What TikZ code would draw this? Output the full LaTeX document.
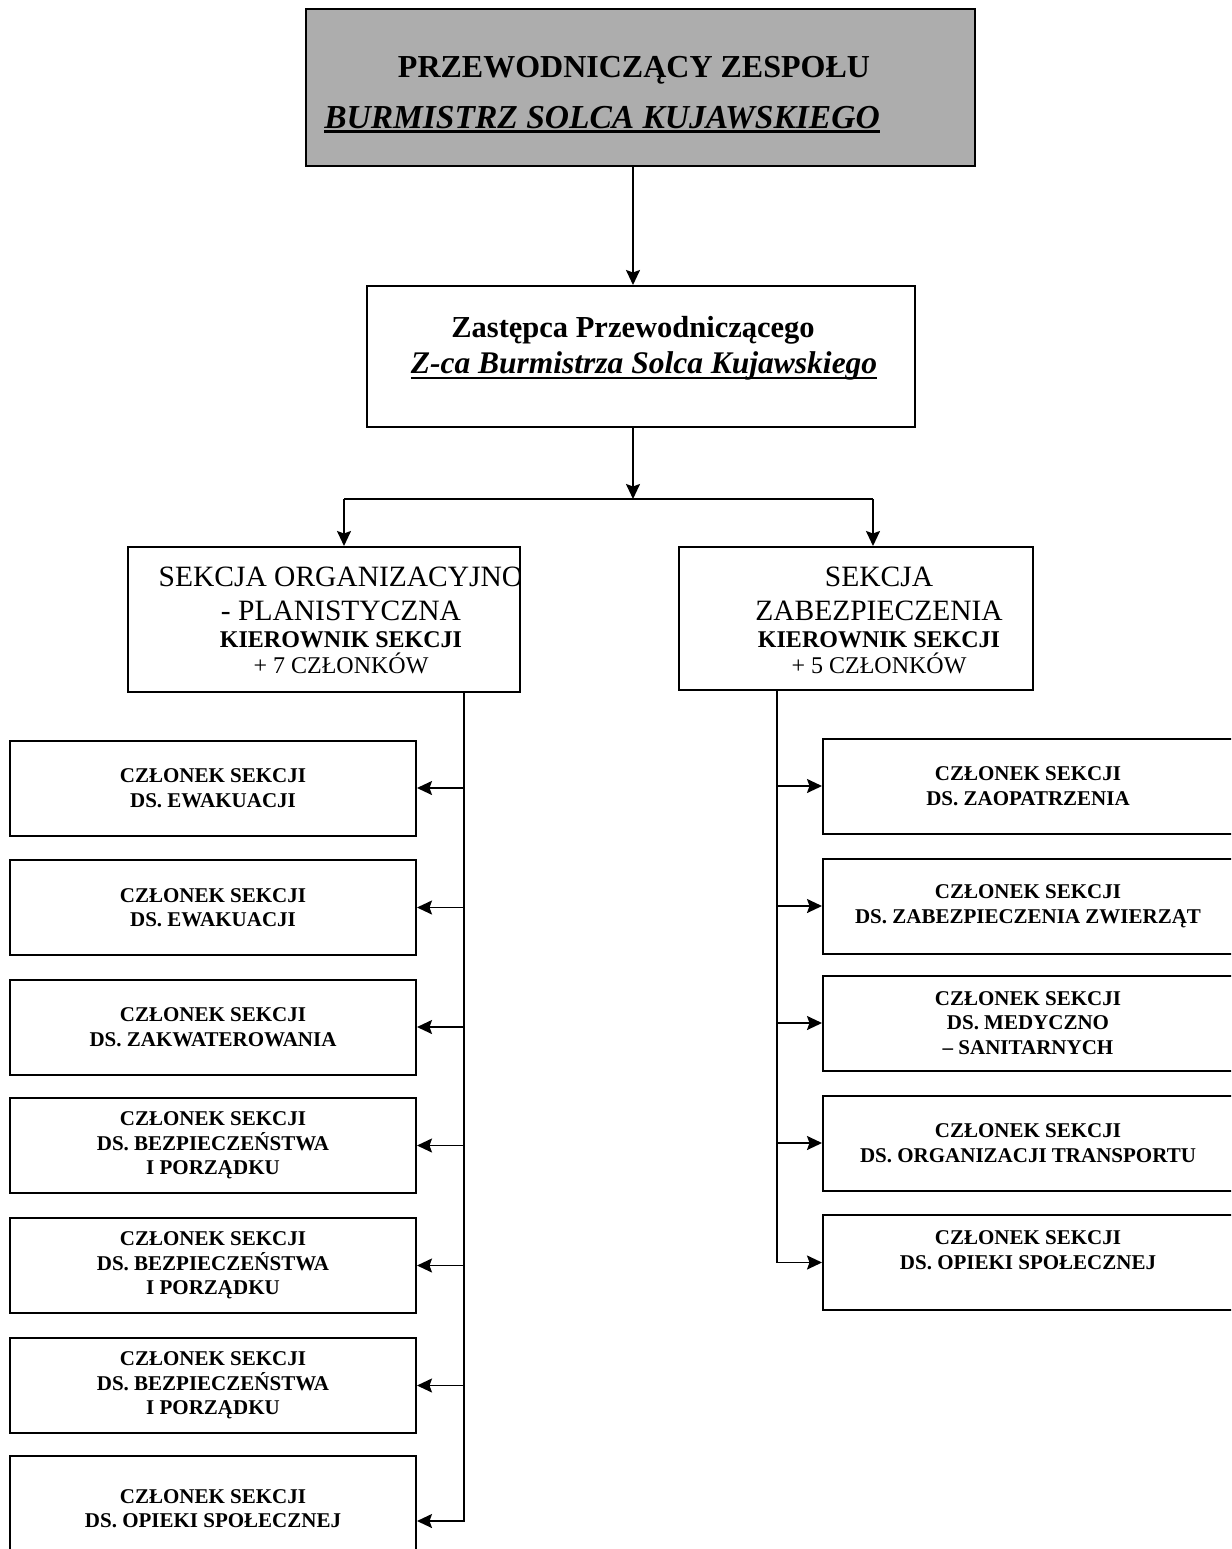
\documentclass[tikz,border=0pt]{standalone}
\usepackage{fontspec}
\setmainfont{Liberation Serif}
\usetikzlibrary{arrows.meta}

% underline with a chosen thickness (#1) and depth below the baseline (#2)
\newcommand{\thickul}[3]{\setbox0\hbox{#3}\rlap{\copy0}\rule[-#2]{\wd0}{#1}}

\begin{document}
\begin{tikzpicture}[x=1pt,y=-1pt,
  frame/.style={draw=black,line width=2pt,inner sep=0pt},
  link/.style={line width=1.8pt},
  arr/.style={link,-{Stealth[length=15pt,width=14pt,inset=2.5pt]}},
  txt/.style={inner sep=0pt,anchor=base},
  member/.style={frame,minimum height=95pt,align=center,
    font=\fontsize{21}{24.5}\selectfont\bfseries},
  memL/.style={member,minimum width=406pt},
  memR/.style={member,minimum width=410pt},
  title/.style={txt,font=\fontsize{29.5}{34}\selectfont},
  head/.style={txt,font=\fontsize{24}{28}\selectfont\bfseries},
  count/.style={txt,font=\fontsize{24}{28}\selectfont},
]
\useasboundingbox (0,0) rectangle (1231,1549);
\clip (0,0) rectangle (1231,1549);

% --- chairman ---
\node[frame,fill=black!32,minimum width=669pt,minimum height=157pt] (chair) at (640.5,87.5) {};
\node[txt,font=\fontsize{32}{36}\selectfont\bfseries] (chairA) at (634,78) {PRZEWODNICZĄCY ZESPOŁU};
\node[txt,font=\fontsize{33.5}{38}\selectfont\bfseries\itshape] (chairB) at (602,129)
  {\thickul{2.6pt}{4pt}{BURMISTRZ SOLCA KUJAWSKIEGO}};

% --- deputy ---
\node[frame,minimum width=548pt,minimum height=141pt] (deputy) at (641,356.5) {};
\node[txt,font=\fontsize{30.5}{34}\selectfont\bfseries] (deputyA) at (633,337) {Zastępca Przewodniczącego};
\node[txt,font=\fontsize{31.5}{35}\selectfont\bfseries\itshape] (deputyB) at (644,373)
  {\thickul{2.4pt}{6pt}{Z-ca Burmistrza Solca Kujawskiego}};

% --- sections ---
\node[frame,minimum width=392pt,minimum height=145pt] (secL) at (324,619.5) {};
\node[frame,minimum width=354pt,minimum height=143pt] (secR) at (856,618.5) {};
\begin{scope}
  \clip (128,547) rectangle (520,692);
  \node[title] (secLa) at (341,586) {SEKCJA ORGANIZACYJNO};
  \node[title] (secLb) at (341,620) {- PLANISTYCZNA};
  \node[head]  (secLc) at (341,647) {KIEROWNIK SEKCJI};
  \node[count] (secLd) at (341,673) {+ 7 CZŁONKÓW};
\end{scope}
\node[title] (secRa) at (879,586) {SEKCJA};
\node[title] (secRb) at (879,620) {ZABEZPIECZENIA};
\node[head]  (secRc) at (879,647) {KIEROWNIK SEKCJI};
\node[count] (secRd) at (879,673) {+ 5 CZŁONKÓW};

% --- members of the left section ---
\node[memL] (m1) at (213,788)    {CZŁONEK SEKCJI\\DS. EWAKUACJI};
\node[memL] (m2) at (213,907.5)  {CZŁONEK SEKCJI\\DS. EWAKUACJI};
\node[memL] (m3) at (213,1027)   {CZŁONEK SEKCJI\\DS. ZAKWATEROWANIA};
\node[memL] (m4) at (213,1145.5) {CZŁONEK SEKCJI\\DS. BEZPIECZEŃSTWA\\I PORZĄDKU};
\node[memL] (m5) at (213,1265.5) {CZŁONEK SEKCJI\\DS. BEZPIECZEŃSTWA\\I PORZĄDKU};
\node[memL] (m6) at (213,1385.5) {CZŁONEK SEKCJI\\DS. BEZPIECZEŃSTWA\\I PORZĄDKU};
\node[memL,minimum height=130pt] (m7) at (213,1521) {CZŁONEK SEKCJI\\DS. OPIEKI SPOŁECZNEJ\\ \mbox{}};

% --- members of the right section ---
\node[memR] (r1) at (1028,786)    {CZŁONEK SEKCJI\\DS. ZAOPATRZENIA};
\node[memR] (r2) at (1028,906)    {CZŁONEK SEKCJI\\DS. ZABEZPIECZENIA ZWIERZĄT};
\node[memR] (r3) at (1028,1023)   {CZŁONEK SEKCJI\\DS. MEDYCZNO\\– SANITARNYCH};
\node[memR] (r4) at (1028,1143)   {CZŁONEK SEKCJI\\DS. ORGANIZACJI TRANSPORTU};
\node[memR] (r5) at (1028,1262.5) {CZŁONEK SEKCJI\\DS. OPIEKI SPOŁECZNEJ\\ \mbox{}};

% --- connectors ---
\coordinate (hub) at (633,499);
\coordinate (dropL) at (344,499);
\coordinate (dropR) at (873,499);
\coordinate (spL) at (464,692);
\coordinate (spR) at (777,690);

\draw[arr] (chair.south -| hub) -- (deputy.north -| hub);
\draw[arr] (deputy.south -| hub) -- (hub);
\draw[link] (dropL) -- (dropR);
\draw[arr] (dropL) -- (dropL |- secL.north);
\draw[arr] (dropR) -- (dropR |- secR.north);

\draw[arr] (spL) |- (m7.east);
\foreach \m in {m1,m2,m3,m4,m5,m6}
  \draw[arr] (spL |- \m.east) -- (\m.east);

\draw[arr] (spR) |- (r5.west);
\foreach \r in {r1,r2,r3,r4}
  \draw[arr] (spR |- \r.west) -- (\r.west);
\end{tikzpicture}
\end{document}
